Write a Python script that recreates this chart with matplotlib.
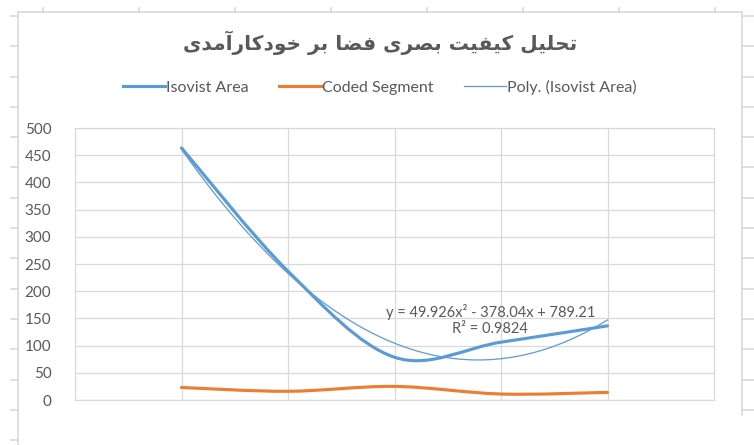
import numpy as np
import matplotlib
matplotlib.use('Agg')
from matplotlib import pyplot as plt
from matplotlib.path import Path
from matplotlib.patches import PathPatch
from matplotlib.lines import Line2D

# chart data
categories = [1, 2, 3, 4, 5]
isovist_area = [463.4, 236.8, 78.6, 106.3, 136.3]
coded_segment = [23, 16, 25, 11, 14]
title_text = 'تحلیل کیفیت بصری فضا بر خودکارآمدی'
trend_label = 'y = 49.926x² - 378.04x + 789.21\nR² = 0.9824'
y_ticks = list(range(0, 501, 50))

BLUE = '#5B9BD5'
ORANGE = '#ED7D31'
GRID = '#D9D9D9'
TEXT = '#595959'

# arabic presentation forms: isolated, final, initial, medial
FORMS = {
    'ا': ('\uFE8D', '\uFE8E', None, None),
    'آ': ('\uFE81', '\uFE82', None, None),
    'ب': ('\uFE8F', '\uFE90', '\uFE91', '\uFE92'),
    'ت': ('\uFE95', '\uFE96', '\uFE97', '\uFE98'),
    'ح': ('\uFEA1', '\uFEA2', '\uFEA3', '\uFEA4'),
    'خ': ('\uFEA5', '\uFEA6', '\uFEA7', '\uFEA8'),
    'د': ('\uFEA9', '\uFEAA', None, None),
    'ر': ('\uFEAD', '\uFEAE', None, None),
    'ص': ('\uFEB9', '\uFEBA', '\uFEBB', '\uFEBC'),
    'ض': ('\uFEBD', '\uFEBE', '\uFEBF', '\uFEC0'),
    'ف': ('\uFED1', '\uFED2', '\uFED3', '\uFED4'),
    'ل': ('\uFEDD', '\uFEDE', '\uFEDF', '\uFEE0'),
    'م': ('\uFEE1', '\uFEE2', '\uFEE3', '\uFEE4'),
    'و': ('\uFEED', '\uFEEE', None, None),
    'ی': ('\uFBFC', '\uFBFD', '\uFBFE', '\uFBFF'),
    'ک': ('\uFB8E', '\uFB8F', '\uFB90', '\uFB91'),
}


def shape(text):
    out = []
    for i, c in enumerate(text):
        if c not in FORMS:
            out.append(c)
            continue
        prev = text[i - 1] if i > 0 else None
        nxt = text[i + 1] if i + 1 < len(text) else None
        jp = prev in FORMS and FORMS[prev][2] is not None
        jn = nxt in FORMS and FORMS[c][2] is not None
        iso, fin, ini, med = FORMS[c]
        if jp and jn:
            out.append(med)
        elif jp:
            out.append(fin)
        elif jn:
            out.append(ini)
        else:
            out.append(iso)
    return ''.join(reversed(out))


def smooth_path(xs, ys):
    # excel style smoothed line as bezier segments
    pts = np.column_stack([xs, ys]).astype(float)
    ext = np.vstack([pts[0], pts, pts[-1]])
    verts = [pts[0]]
    codes = [Path.MOVETO]
    for i in range(len(pts) - 1):
        p0, p1, p2, p3 = ext[i], ext[i + 1], ext[i + 2], ext[i + 3]
        verts += [p1 + (p2 - p0) / 6, p2 - (p3 - p1) / 6, p2]
        codes += [Path.CURVE4] * 3
    return Path(verts, codes)


plt.rcParams['font.family'] = ['Lato', 'DejaVu Sans']

fig = plt.figure(figsize=(7.54, 4.45), dpi=100)
ax = fig.add_axes([75 / 754, 45 / 445, 639 / 754, 272 / 445])

ax.add_patch(PathPatch(smooth_path(categories, isovist_area), fill=False,
                       edgecolor=BLUE, lw=2.25, capstyle='round', zorder=3))
ax.add_patch(PathPatch(smooth_path(categories, coded_segment), fill=False,
                       edgecolor=ORANGE, lw=2.25, capstyle='round', zorder=3))

coef = np.polyfit(categories, isovist_area, 2)
xt = np.linspace(categories[0], categories[-1], 200)
ax.plot(xt, np.polyval(coef, xt), color=BLUE, lw=0.9, zorder=4)

ax.text(3.9, 147, trend_label, ha='center', va='center', fontsize=10.5,
        color=TEXT, linespacing=1.2, zorder=5)

ax.set_xlim(0, 6)
ax.set_ylim(0, 500)
ax.set_yticks(y_ticks)
ax.set_xticks(categories)
ax.set_xticklabels([])
ax.tick_params(length=0, labelsize=11, labelcolor=TEXT, pad=17)
ax.grid(True, color=GRID, lw=0.9)
ax.set_axisbelow(True)
for s in ax.spines.values():
    s.set_color(GRID)
    s.set_linewidth(0.9)

handles = [Line2D([], [], color=BLUE, lw=2.25),
           Line2D([], [], color=ORANGE, lw=2.25),
           Line2D([], [], color=BLUE, lw=0.9)]
labels = ['Isovist Area', 'Coded Segment', 'Poly. (Isovist Area)']
fig.legend(handles, labels, loc='center', bbox_to_anchor=(380 / 754, 1 - 87 / 445),
           ncol=3, frameon=False, fontsize=11.5, labelcolor=TEXT,
           handlelength=2.6, handletextpad=0.1, columnspacing=1.9)

fig.text(380 / 754, 1 - 43 / 445, shape(title_text), ha='center', va='center',
         fontsize=14.5, fontweight='bold', color=TEXT, family='DejaVu Sans')

# spreadsheet cell edges around the chart area
H = 445.0
W = 754.0
def fline(x0, y0, x1, y1):
    fig.add_artist(Line2D([x0 / W, x1 / W], [1 - y0 / H, 1 - y1 / H],
                          color=GRID, lw=1.2, transform=fig.transFigure))

fline(18, 12, 742, 12)
fline(18, 12, 18, 445)
fline(742, 12, 742, 415)
for k in range(15):
    yy = 16 + 30.3 * k
    fline(11, yy, 18, yy)
    if yy < 415:
        fline(742, yy, 754, yy)
for k in range(8):
    xx = 43 + 96 * k
    fline(xx, 8, xx, 12)

fig.savefig('out.png', dpi=100, facecolor='white')
